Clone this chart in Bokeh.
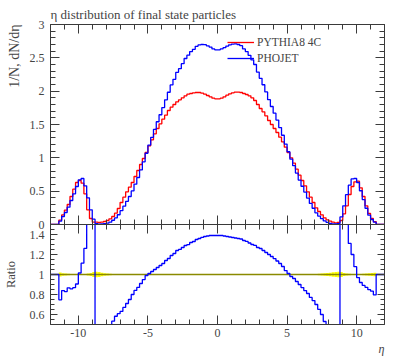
import numpy as np
from bokeh.plotting import figure
from bokeh.layouts import column
from bokeh.models import (LinearAxis, FixedTicker, Legend, LegendItem, Title,
                          Range1d, PrintfTickFormatter)
from bokeh.embed import file_html
from bokeh.resources import INLINE

# ---------------- data ----------------
ETA_MIN, ETA_MAX, BIN_WIDTH = -12.0, 12.0, 0.2
FILLED_MIN = -11.4   # lower edge of first filled bin

# PYTHIA8 4C, bins from -11.4 to 11.4 (width 0.2)
pythia8 = [
    0.067, 0.143, 0.217, 0.30, 0.42, 0.53, 0.63, 0.66, 0.62, 0.46,
    0.22, 0.09, 0.035, 0.035, 0.03, 0.035, 0.045, 0.06, 0.085, 0.12,
    0.17, 0.24, 0.33, 0.41, 0.49, 0.56, 0.63, 0.72, 0.81, 0.90,
    0.99, 1.08, 1.18, 1.27, 1.36, 1.44, 1.51, 1.58, 1.64, 1.71,
    1.76, 1.80, 1.84, 1.87, 1.90, 1.93, 1.955, 1.965, 1.975, 1.98,
    1.98, 1.97, 1.955, 1.935, 1.915, 1.895, 1.885,
    1.885, 1.895, 1.915, 1.94, 1.96, 1.975, 1.985, 1.985, 1.98, 1.965,
    1.95, 1.93, 1.90, 1.86, 1.80, 1.74, 1.69, 1.63, 1.56, 1.50,
    1.44, 1.38, 1.31, 1.24, 1.16, 1.08, 1.00, 0.92, 0.83, 0.74,
    0.66, 0.58, 0.49, 0.41, 0.33, 0.25, 0.195, 0.145, 0.10, 0.07,
    0.05, 0.035, 0.025, 0.03, 0.06, 0.16, 0.28, 0.45, 0.57, 0.64,
    0.65, 0.55, 0.42, 0.28, 0.165, 0.09, 0.044,
]

# PHOJET
phojet = [
    0.05, 0.12, 0.18, 0.26, 0.36, 0.46, 0.57, 0.67, 0.69, 0.58,
    0.40, 0.22, 0.08, 0.012, 0.006, 0.008, 0.012, 0.02, 0.035, 0.064,
    0.099, 0.146, 0.208, 0.275, 0.348, 0.42, 0.504, 0.605, 0.705, 0.819,
    0.94, 1.069, 1.192, 1.308, 1.428, 1.541, 1.646, 1.754, 1.87, 1.984,
    2.094, 2.178, 2.282, 2.338, 2.413, 2.49, 2.54, 2.594, 2.627, 2.673,
    2.693, 2.70, 2.698, 2.68, 2.662, 2.634, 2.62,
    2.62, 2.634, 2.652, 2.677, 2.695, 2.706, 2.71, 2.70, 2.683, 2.633,
    2.594, 2.538, 2.47, 2.40, 2.286, 2.192, 2.096, 1.989, 1.872, 1.77,
    1.67, 1.566, 1.454, 1.339, 1.206, 1.091, 0.98, 0.883, 0.772, 0.666,
    0.574, 0.487, 0.397, 0.316, 0.244, 0.175, 0.127, 0.087, 0.053, 0.032,
    0.018, 0.0105, 0.0075, 0.012, 0.114, 0.28, 0.448, 0.59, 0.684, 0.69,
    0.63, 0.506, 0.374, 0.244, 0.14, 0.075, 0.035,
]

# relative half-width of the yellow reference band in the ratio panel
pythia8_band = [
    0.02, 0.012, 0.01, 0.008, 0.006, 0.005, 0.005, 0.005, 0.005, 0.006,
    0.01, 0.016, 0.025, 0.028, 0.025, 0.018, 0.012, 0.009, 0.007, 0.006,
    0.005, 0.005, 0.004, 0.004, 0.004, 0.003, 0.003, 0.003, 0.003, 0.003,
    0.003, 0.003, 0.003, 0.003, 0.003, 0.003, 0.003, 0.003, 0.003, 0.003,
    0.003, 0.003, 0.003, 0.003, 0.003, 0.003, 0.003, 0.003, 0.003, 0.003,
    0.003, 0.003, 0.003, 0.003, 0.003, 0.003, 0.003,
    0.003, 0.003, 0.003, 0.003, 0.003, 0.003, 0.003, 0.003, 0.003, 0.003,
    0.003, 0.003, 0.003, 0.003, 0.003, 0.003, 0.003, 0.003, 0.003, 0.003,
    0.003, 0.003, 0.003, 0.003, 0.003, 0.003, 0.003, 0.003, 0.003, 0.003,
    0.003, 0.003, 0.004, 0.004, 0.005, 0.006, 0.008, 0.01, 0.012, 0.015,
    0.018, 0.022, 0.026, 0.028, 0.025, 0.016, 0.01, 0.007, 0.006, 0.005,
    0.005, 0.006, 0.008, 0.01, 0.012, 0.014, 0.018,
]

x_major = [-10, -5, 0, 5, 10]
x_labels = ["-10", "-5", "0", "5", "10"]
y_major = [0, 0.5, 1, 1.5, 2, 2.5, 3]
y_labels = ["0", "0.5", "1", "1.5", "2", "2.5", "3"]
r_major = [0.6, 0.8, 1.0, 1.2, 1.4]
r_labels = ["0.6", "0.8", "1", "1.2", "1.4"]

series_names = ["PYTHIA8 4C", "PHOJET"]
title_text = "\u03b7 distribution of final state particles"
y_title = "1/N, dN/d\u03b7"
ratio_title = "Ratio"
x_title = "\u03b7"

# ---------------- build histograms ----------------
n_bins = int(round((ETA_MAX - ETA_MIN) / BIN_WIDTH))
edges = ETA_MIN + BIN_WIDTH * np.arange(n_bins + 1)
pad = int(round((FILLED_MIN - ETA_MIN) / BIN_WIDTH))

def full(vals):
    a = np.zeros(n_bins)
    a[pad:pad + len(vals)] = vals
    return a

h_py = full(pythia8)
h_ph = full(phojet)
band = full(pythia8_band)
filled = h_py > 0
ratio_ph = np.where(filled, h_ph / np.where(filled, h_py, 1.0), 1.0)
ratio_py = np.where(filled, h_py / np.where(filled, h_py, 1.0), 1.0)

def stepy(a):
    return np.append(a, a[-1])

FONT = "Liberation Serif"
RED, BLUE = "#ff0000", "#0000ff"
FRAME = "#3a3a3a"

x_minor = list(range(-12, 13))
y_minor = [round(0.1 * i, 2) for i in range(31)]
r_minor = [round(0.5 + 0.05 * i, 3) for i in range(21)]

def style_axis(ax, ticks, minor, labels, show_labels, tick_in, minor_in):
    ax.ticker = FixedTicker(ticks=ticks, minor_ticks=minor)
    ax.formatter = PrintfTickFormatter(format="%g")
    ax.major_label_overrides = {t: l for t, l in zip(ticks, labels)}
    ax.axis_line_color = FRAME
    ax.major_tick_line_color = FRAME
    ax.minor_tick_line_color = FRAME
    ax.major_tick_in = tick_in
    ax.major_tick_out = 0
    ax.minor_tick_in = minor_in
    ax.minor_tick_out = 0
    ax.major_label_text_font = FONT
    if show_labels:
        ax.major_label_text_font_size = "12px"
        ax.major_label_standoff = 6
    else:
        ax.major_label_text_font_size = "1px"
        ax.major_label_text_color = None
        ax.major_label_standoff = 0

# ---------------- main panel ----------------
p = figure(width=397, height=232, output_backend="svg", toolbar_location=None,
           x_range=Range1d(ETA_MIN, ETA_MAX), y_range=Range1d(0, 3),
           min_border_left=49, min_border_right=13, min_border_top=24, min_border_bottom=8,
           x_axis_location=None, y_axis_location=None, title=title_text)
p.title.text_font = FONT
p.title.text_font_size = "13px"
p.title.text_font_style = "normal"
p.title.align = "left"
p.title.standoff = 6
p.outline_line_color = None
p.xgrid.visible = False
p.ygrid.visible = False

for loc, show in (("left", True), ("right", False)):
    ax = LinearAxis()
    style_axis(ax, y_major, y_minor, y_labels, show, 9, 5)
    p.add_layout(ax, loc)
for loc in ("above", "below"):
    ax = LinearAxis()
    style_axis(ax, x_major, x_minor, x_labels, False, 9, 5)
    p.add_layout(ax, loc)

ylab = Title(text=y_title, align="right", text_font=FONT, text_font_size="14px",
             text_font_style="normal", standoff=9)
p.add_layout(ylab, "left")

r1 = p.step(edges, stepy(h_py), mode="after", line_color=RED, line_width=1.3)
r2 = p.step(edges, stepy(h_ph), mode="after", line_color=BLUE, line_width=1.3)

legend = Legend(items=[LegendItem(label=series_names[0], renderers=[r1]),
                       LegendItem(label=series_names[1], renderers=[r2])],
                location=(177, 158), border_line_color=None, background_fill_alpha=0,
                padding=0, margin=0, spacing=0, glyph_width=27, glyph_height=16,
                label_height=16, label_standoff=3, label_text_font=FONT,
                label_text_font_size="11.5px")
p.add_layout(legend)

# ---------------- ratio panel ----------------
q = figure(width=397, height=134, output_backend="svg", toolbar_location=None,
           x_range=p.x_range, y_range=Range1d(0.5, 1.5),
           min_border_left=49, min_border_right=13, min_border_top=0, min_border_bottom=34,
           x_axis_location=None, y_axis_location=None, margin=(-8, 0, 0, 0))
q.outline_line_color = None
q.background_fill_alpha = 0
q.border_fill_alpha = 0
q.xgrid.visible = False
q.ygrid.visible = False

axl = LinearAxis(axis_label=ratio_title)
style_axis(axl, r_major, r_minor, r_labels, True, 7, 4)
axl.axis_label_text_font = FONT
axl.axis_label_text_font_size = "12.5px"
axl.axis_label_text_font_style = "normal"
axl.axis_label_standoff = 9
q.add_layout(axl, "left")
axr = LinearAxis()
style_axis(axr, r_major, r_minor, r_labels, False, 7, 4)
q.add_layout(axr, "right")
axt = LinearAxis()
style_axis(axt, x_major, x_minor, x_labels, False, 9, 5)
q.add_layout(axt, "above")
axb = LinearAxis()
style_axis(axb, x_major, x_minor, x_labels, True, 9, 5)
axb.major_label_standoff = 4
q.add_layout(axb, "below")
q.add_layout(Title(text=x_title, align="right", text_font=FONT, text_font_size="12px",
                   text_font_style="italic", standoff=0), "below")

fm = filled
q.quad(left=edges[:-1][fm], right=edges[1:][fm], bottom=(1 - band)[fm], top=(1 + band)[fm],
       fill_color="#ffff00", line_color=None)
q.step(edges, stepy(ratio_py), mode="after", line_color="#8a8a00", line_width=1.3)
q.step(edges, stepy(ratio_ph), mode="after", line_color=BLUE, line_width=1.3)

layout = column(p, q, spacing=0)
open("out.html", "w").write(file_html(layout, INLINE))
